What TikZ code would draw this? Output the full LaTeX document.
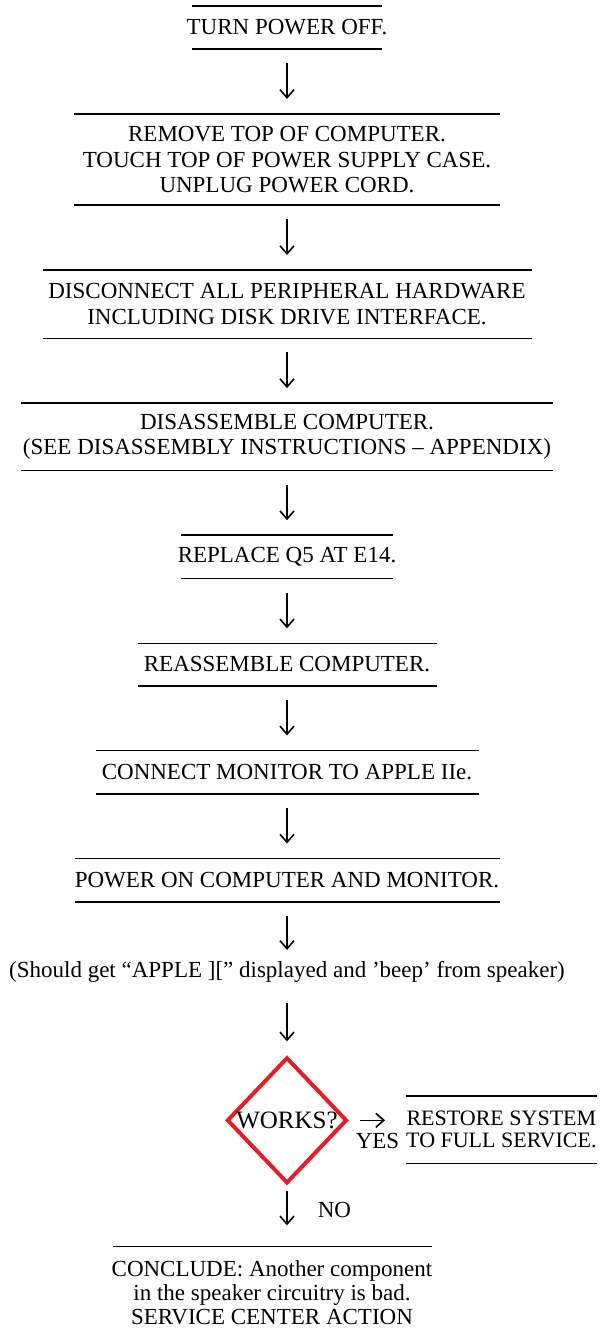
\documentclass[tikz,border=0pt]{standalone}
\usepackage{fontspec}
\setmainfont{Liberation Serif}
\usepackage{tikz}
\usetikzlibrary{shapes.geometric, arrows.meta, positioning}
\definecolor{worksred}{RGB}{228,30,37}
\tikzstyle{rule} = [line width=1.6pt]
\tikzstyle{arrow} = [line width=1.6pt, -{Straight Barb[length=8pt,width=14pt]}, shorten <=14pt, shorten >=15pt]
\tikzstyle{decision} = [diamond, draw=worksred, line width=4pt, minimum width=120pt, minimum height=126pt, inner sep=0pt]
\tikzstyle{plain} = [inner sep=0pt, align=center]
\tikzset{
  ruled/.style={inner sep=0pt, align=center,
    append after command={([xshift=-#1/2]\tikzlastnode.north) edge[rule] ([xshift=#1/2]\tikzlastnode.north)
      ([xshift=-#1/2]\tikzlastnode.south) edge[rule] ([xshift=#1/2]\tikzlastnode.south)}},
  toprule/.style={inner sep=0pt, align=center,
    append after command={([xshift=-#1/2]\tikzlastnode.north) edge[rule] ([xshift=#1/2]\tikzlastnode.north)}}
}

\begin{document}
\begin{tikzpicture}[node distance=64.7pt, font=\fontsize{23pt}{25.5pt}\selectfont]
\useasboundingbox (0,0) rectangle (603pt,-1329pt);

\node (poweroff) [ruled=190pt, minimum height=43pt] at (287pt,-27.5pt) {TURN POWER OFF.};
\node (removetop) [ruled=426pt, minimum height=91pt, below=of poweroff] {REMOVE TOP OF COMPUTER.\\TOUCH TOP OF POWER SUPPLY CASE.\\UNPLUG POWER CORD.};
\node (disconnect) [ruled=489pt, minimum height=68pt, below=of removetop] {DISCONNECT ALL PERIPHERAL HARDWARE\\INCLUDING DISK DRIVE INTERFACE.};
\node (disassemble) [ruled=532pt, minimum height=67pt, below=of disconnect] {DISASSEMBLE COMPUTER.\\(SEE DISASSEMBLY INSTRUCTIONS -- APPENDIX)};
\node (replace) [ruled=212pt, minimum height=43pt, below=of disassemble] {REPLACE Q5 AT E14.};
\node (reassemble) [ruled=299pt, minimum height=42pt, below=of replace] {REASSEMBLE COMPUTER.};
\node (monitor) [ruled=383pt, minimum height=43pt, below=of reassemble] {CONNECT MONITOR TO APPLE IIe.};
\node (poweron) [ruled=425pt, minimum height=43pt, below=of monitor] {POWER ON COMPUTER AND MONITOR.};
\node (note) [plain, minimum height=43pt, below=48pt of poweron] {(Should get ``APPLE ][\kern0pt'' displayed and 'beep' from speaker)};
\node (works) [decision, below=62pt of note, label={[font=\fontsize{25pt}{25pt}\selectfont]center:WORKS?}] {};
\node (restore) [ruled=191pt, minimum height=67pt, right=57pt of works, yshift=-9.5pt, font=\fontsize{22pt}{22pt}\selectfont] {RESTORE SYSTEM\\TO FULL SERVICE.};
\node (conclude) [toprule=319pt, minimum height=92pt, below=61pt of works, xshift=-15pt, font=\fontsize{23pt}{24pt}\selectfont] {CONCLUDE: Another component\\in the speaker circuitry is bad.\\SERVICE CENTER ACTION};

\draw [arrow] (poweroff) -- (removetop);
\draw [arrow] (removetop) -- (disconnect);
\draw [arrow] (disconnect) -- (disassemble);
\draw [arrow] (disassemble) -- (replace);
\draw [arrow] (replace) -- (reassemble);
\draw [arrow] (reassemble) -- (monitor);
\draw [arrow] (monitor) -- (poweron);
\draw [arrow, shorten >=0pt] (poweron) -- (note);
\draw [arrow, shorten <=10pt, shorten >=14pt] (note) -- (works);
\draw [arrow, shorten <=11pt, shorten >=21pt] (works.east) -- node[plain, pos=0.5, below=12pt] {YES} (works.east -| restore.west);
\draw [arrow, shorten <=6pt, shorten >=21pt] (works.south) -- node[plain, pos=0.41, right=30pt] {NO} (works.south |- conclude.north);
\end{tikzpicture}
\end{document}
